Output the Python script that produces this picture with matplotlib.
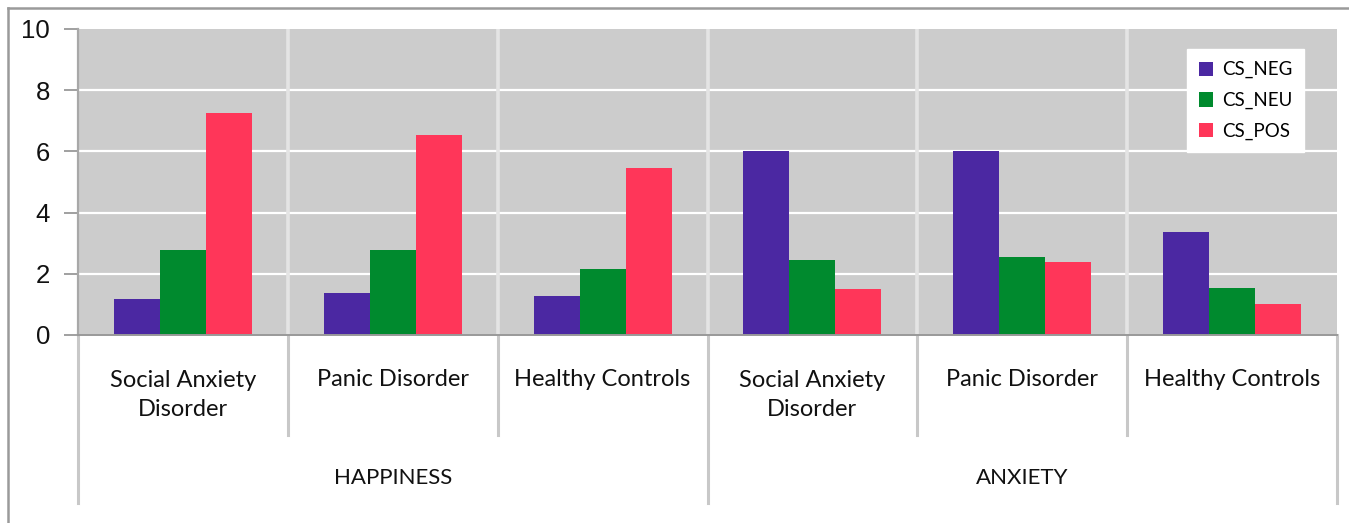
import matplotlib
matplotlib.use("Agg")
import matplotlib.pyplot as plt
from matplotlib.lines import Line2D
from matplotlib.patches import Patch
import numpy as np

emotions = ["HAPPINESS", "ANXIETY"]
groups = ["Social Anxiety\nDisorder", "Panic Disorder", "Healthy Controls"]
series = ["CS_NEG", "CS_NEU", "CS_POS"]
cs_neg = [1.19, 1.37, 1.27, 6.0, 6.0, 3.36]
cs_neu = [2.77, 2.77, 2.16, 2.45, 2.54, 1.55]
cs_pos = [7.27, 6.52, 5.45, 1.50, 2.38, 1.01]
colors = ["#4B28A2", "#008A2E", "#FF3659"]
y_ticks = [0, 2, 4, 6, 8, 10]

W, H, DPI = 1349, 523, 100
fig = plt.figure(figsize=(W / DPI, H / DPI), dpi=DPI)
fig.patch.set_facecolor("white")

left, right, top, bottom = 78, 1337, 29, 335
ax = fig.add_axes([left / W, 1 - bottom / H, (right - left) / W, (bottom - top) / H])
ax.set_facecolor("#CCCCCC")

n = len(emotions) * len(groups)
x = np.arange(n) + 0.5
bw = 0.219
for k, (vals, col, name) in enumerate(zip([cs_neg, cs_neu, cs_pos], colors, series)):
    ax.bar(x + (k - 1) * bw, vals, width=bw, color=col, label=name, zorder=3,
           edgecolor="none")

ax.set_xlim(0, n)
ax.set_ylim(0, 10)
ax.set_yticks(y_ticks)
ax.set_yticklabels([str(v) for v in y_ticks], fontsize=18.5, family="Liberation Sans",
                   color="#111111")
ax.tick_params(axis="y", length=10, width=1.3, color="#999999", pad=10)
ax.set_xticks([])
for yv in y_ticks[1:-1]:
    ax.axhline(yv, color="white", lw=1.6, zorder=1)
for xv in range(1, n):
    ax.axvline(xv, color="#E4E4E4", lw=2.6, zorder=1)

for s in ["top", "right"]:
    ax.spines[s].set_visible(False)
ax.spines["left"].set_color("#A8A8A8")
ax.spines["left"].set_linewidth(1.6)
ax.spines["bottom"].set_color("#999999")
ax.spines["bottom"].set_linewidth(1.4)
ax.spines["bottom"].set_zorder(4)

# category and emotion labels below the plot
trans = ax.get_xaxis_transform()
axh = bottom - top
def yfrac(py):
    return (bottom - py) / axh

grp_font = dict(family="Lato", fontsize=17, color="#111111")
emo_font = dict(family="Lato", fontsize=16, color="#111111")
for i in range(n):
    g = groups[i % len(groups)]
    if "\n" in g:
        ax.text(x[i], yfrac(395), g, transform=trans, ha="center", va="center",
                linespacing=1.5, clip_on=False, **grp_font)
    else:
        ax.text(x[i], yfrac(380), g, transform=trans, ha="center", va="center",
                clip_on=False, **grp_font)
for j, e in enumerate(emotions):
    ax.text(len(groups) * (j + 0.5), yfrac(478), e, transform=trans, ha="center",
            va="center", clip_on=False, **emo_font)

sep_col = "#C8C8C8"
for xv in range(0, n + 1):
    lower = 503 if xv % len(groups) == 0 else 435
    ax.add_line(Line2D([xv, xv], [0, yfrac(lower)], transform=trans, color=sep_col,
                       lw=2.2, clip_on=False, zorder=0))

handles = [Patch(facecolor=c, edgecolor="none") for c in colors]
leg = ax.legend(handles, series, loc="upper left",
                bbox_to_anchor=((1187 - left) / (right - left), yfrac(49)),
                frameon=True, fancybox=False, framealpha=1, edgecolor="white",
                facecolor="white", prop=dict(family="Lato", size=13.5),
                handlelength=0.75, handleheight=0.8, handletextpad=0.45,
                labelspacing=0.72, borderpad=0.65, borderaxespad=0)
leg.set_zorder(5)

# outer chart frame (top and left edges)
fig.add_artist(Line2D([8 / W, 1], [1 - 8 / H, 1 - 8 / H], transform=fig.transFigure,
                      color="#9A9A9A", lw=1.8))
fig.add_artist(Line2D([8 / W, 8 / W], [0, 1 - 8 / H], transform=fig.transFigure,
                      color="#9A9A9A", lw=1.8))

fig.savefig("out.png", dpi=DPI)
